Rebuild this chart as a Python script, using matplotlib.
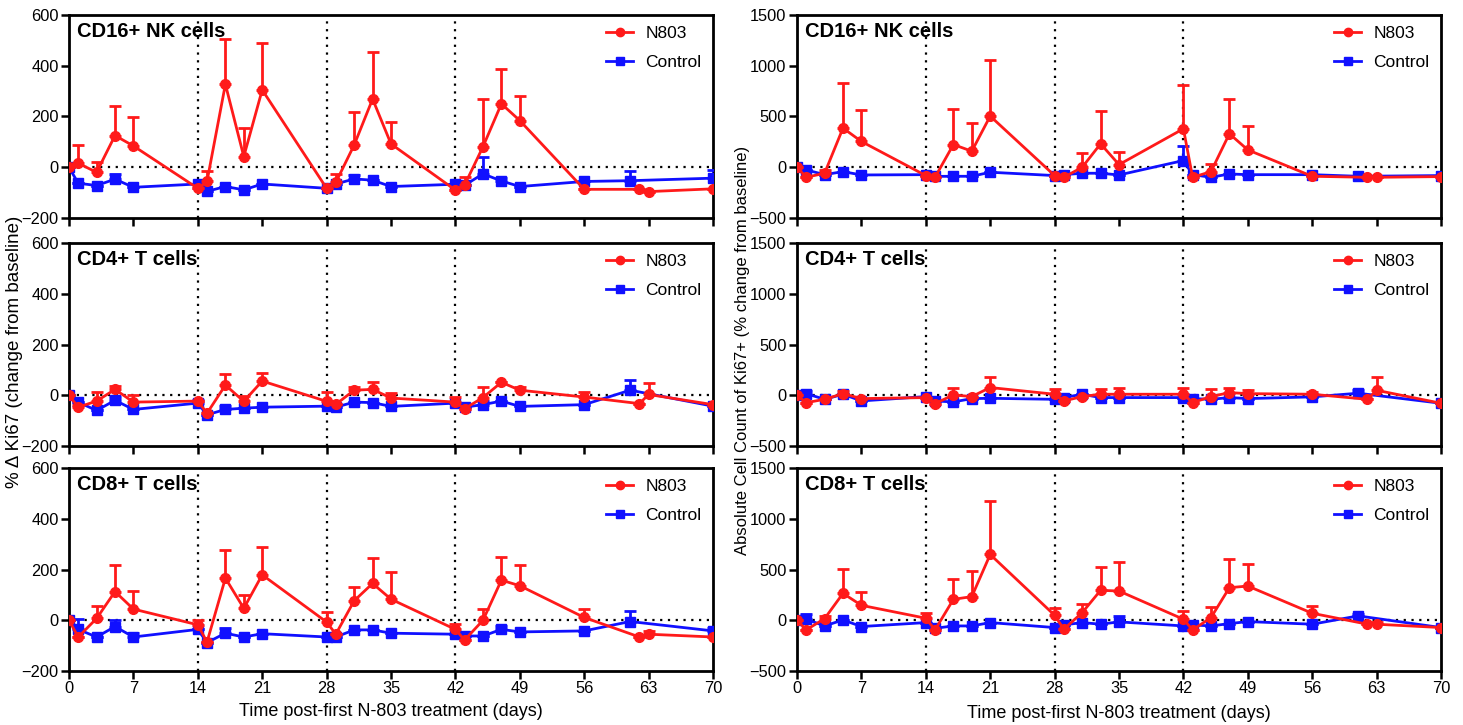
import numpy as np
import matplotlib.pyplot as plt
from matplotlib.lines import Line2D

plt.rcParams["font.family"] = ["Liberation Sans", "DejaVu Sans"]

days_n803 = [0, 1, 3, 5, 7, 14, 15, 17, 19, 21, 28, 29, 31, 33, 35, 42, 43, 45, 47, 49, 56, 62, 63, 70]
days_ctrl = [0, 1, 3, 5, 7, 14, 15, 17, 19, 21, 28, 29, 31, 33, 35, 42, 43, 45, 47, 49, 56, 61, 70]

# % delta Ki67 (left column)
nk_ki67_n803 = [0, 16, -20, 125, 84, -83, -56, 327, 42, 305, -83, -60, 88, 269, 92, -90, -70, 81, 250, 184, -87, -87, -96, -85]
nk_ki67_n803_err = [0, 72, 40, 118, 113, 0, 42, 178, 114, 186, 0, 34, 130, 184, 85, 0, 33, 187, 136, 98, 0, 0, 0, 0]
nk_ki67_ctrl = [0, -63, -72, -47, -79, -66, -95, -76, -89, -66, -83, -66, -46, -51, -76, -67, -71, -26, -54, -76, -56, -53, -43]
nk_ki67_ctrl_err = [0, 0, 0, 21, 0, 0, 0, 0, 0, 0, 0, 0, 16, 0, 0, 0, 0, 68, 13, 0, 0, 40, 33]

cd4_ki67_n803 = [0, -47, -23, 23, -27, -23, -71, 40, -24, 56, -24, -36, 20, 23, -11, -27, -53, -9, 51, 20, -7, -33, 3, -37]
cd4_ki67_n803_err = [0, 10, 35, 12, 27, 0, 0, 45, 20, 30, 37, 0, 13, 28, 18, 20, 0, 42, 0, 13, 20, 0, 44, 0]
cd4_ki67_ctrl = [0, -27, -60, -20, -56, -31, -77, -56, -51, -47, -43, -47, -27, -29, -44, -31, -47, -37, -23, -44, -37, 20, -43]
cd4_ki67_ctrl_err = [0, 0, 0, 13, 0, 12, 0, 15, 0, 0, 0, 0, 0, 0, 0, 0, 0, 15, 0, 0, 0, 40, 0]

cd8_ki67_n803 = [0, -66, 7, 113, 44, -18, -86, 166, 47, 179, -7, -55, 77, 145, 83, -36, -78, 0, 158, 136, 11, -66, -55, -66]
cd8_ki67_n803_err = [0, 0, 50, 106, 72, 19, 0, 111, 53, 109, 41, 0, 55, 99, 106, 23, 0, 46, 90, 82, 35, 0, 13, 0]
cd8_ki67_ctrl = [0, -36, -66, -25, -66, -36, -88, -51, -66, -53, -66, -66, -38, -38, -51, -55, -62, -62, -36, -46, -42, -5, -42]
cd8_ki67_ctrl_err = [0, 40, 0, 25, 15, 0, 0, 20, 0, 0, 0, 0, 0, 0, 0, 0, 0, 0, 13, 0, 0, 42, 13]

# absolute count of Ki67+ cells (right column)
nk_abs_n803 = [0, -99, -59, 386, 254, -82, -99, 224, 158, 504, -82, -99, 0, 231, 26, 379, -99, -43, 330, 171, -89, -99, -99, -92]
nk_abs_n803_err = [0, 0, 33, 445, 306, 0, 0, 353, 280, 551, 0, 0, 138, 320, 122, 435, 0, 76, 339, 235, 0, 0, 0, 0]
nk_abs_ctrl = [0, -26, -73, -43, -76, -73, -90, -89, -89, -49, -82, -73, -59, -59, -76, 66, -73, -99, -66, -73, -73, -89, -82]
nk_abs_ctrl_err = [0, 0, 0, 0, 0, 0, 0, 0, 0, 0, 0, 0, 0, 0, 0, 148, 0, 0, 0, 0, 0, 0, 0]

cd4_abs_n803 = [0, -73, -40, 16, -33, -23, -82, 3, -13, 76, 10, -56, -13, 10, 10, 10, -73, -13, 26, 16, 10, -40, 49, -79]
cd4_abs_n803_err = [0, 0, 0, 27, 0, 0, 0, 73, 0, 99, 49, 0, 0, 49, 59, 66, 0, 79, 50, 33, 26, 0, 126, 0]
cd4_abs_ctrl = [0, 16, -40, 10, -56, -13, -56, -66, -33, -30, -40, -23, 10, -23, -23, -23, -33, -40, -23, -33, -16, 20, -79]
cd4_abs_ctrl_err = [0, 27, 0, 0, 0, 0, 0, 0, 0, 0, 0, 0, 0, 0, 0, 0, 0, 0, 0, 0, 0, 29, 0]

cd8_abs_n803 = [0, -95, 16, 265, 147, 20, -95, 206, 233, 648, 49, -88, 75, 295, 288, 10, -95, 26, 321, 337, 69, -39, -39, -72]
cd8_abs_n803_err = [0, 0, 27, 236, 135, 49, 0, 197, 252, 524, 75, 0, 89, 232, 285, 82, 0, 108, 278, 220, 72, 0, 20, 0]
cd8_abs_ctrl = [0, 10, -56, 3, -62, -23, -79, -56, -56, -23, -72, -46, -23, -39, -16, -56, -46, -56, -33, -13, -39, 43, -72]
cd8_abs_ctrl_err = [0, 55, 0, 0, 0, 0, 0, 0, 0, 0, 0, 0, 0, 0, 59, 0, 0, 0, 0, 0, 0, 22, 0]

titles = ["CD16+ NK cells", "CD4+ T cells", "CD8+ T cells"]
left_data = [
    (nk_ki67_n803, nk_ki67_n803_err, nk_ki67_ctrl, nk_ki67_ctrl_err),
    (cd4_ki67_n803, cd4_ki67_n803_err, cd4_ki67_ctrl, cd4_ki67_ctrl_err),
    (cd8_ki67_n803, cd8_ki67_n803_err, cd8_ki67_ctrl, cd8_ki67_ctrl_err),
]
right_data = [
    (nk_abs_n803, nk_abs_n803_err, nk_abs_ctrl, nk_abs_ctrl_err),
    (cd4_abs_n803, cd4_abs_n803_err, cd4_abs_ctrl, cd4_abs_ctrl_err),
    (cd8_abs_n803, cd8_abs_n803_err, cd8_abs_ctrl, cd8_abs_ctrl_err),
]

RED = "#ff1a1a"
BLUE = "#1010ff"

W, H = 1463, 725
fig = plt.figure(figsize=(W / 100, H / 100), dpi=100)

col_left = [69, 797]
col_w = 644
row_top = [15, 243, 468]
row_h = 203


def draw_panel(ax, data, title, ylim, yticks, show_xlabels):
    n803, n803_err, ctrl, ctrl_err = data
    for d in (14, 28, 42):
        ax.axvline(d, color="black", linestyle=(0, (1, 2.5)), lw=1.6, zorder=1)
    ax.axhline(0, color="black", linestyle=(0, (1, 2.5)), lw=1.6, zorder=1)
    ax.errorbar(days_ctrl, ctrl, yerr=[np.zeros(len(ctrl)), ctrl_err],
                color=BLUE, marker="s", ms=6.5, lw=2, capsize=4, capthick=2,
                elinewidth=2, zorder=3)
    ax.errorbar(days_n803, n803, yerr=[np.zeros(len(n803)), n803_err],
                color=RED, marker="o", ms=7, lw=2, capsize=4, capthick=2,
                elinewidth=2, zorder=4)
    ax.set_xlim(0, 70)
    ax.set_ylim(*ylim)
    ax.set_xticks(range(0, 71, 7))
    ax.set_yticks(yticks)
    ax.tick_params(direction="out", length=6, width=1.8, labelsize=11.8, pad=1.5)
    if not show_xlabels:
        ax.set_xticklabels([])
    for s in ax.spines.values():
        s.set_linewidth(2)
    ax.text(0.012, 0.965, title, transform=ax.transAxes, ha="left", va="top",
            fontsize=14.5, fontweight="bold")
    handles = [
        Line2D([], [], color=RED, marker="o", ms=6, lw=2, label="N803"),
        Line2D([], [], color=BLUE, marker="s", ms=5.5, lw=2, label="Control"),
    ]
    ax.legend(handles=handles, loc="upper right", frameon=False, fontsize=12.5,
              handlelength=1.6, handletextpad=0.7, borderaxespad=0.25,
              labelspacing=0.75)


for r in range(3):
    for c, (data_set, ylim, yticks) in enumerate([
        (left_data, (-200, 600), [-200, 0, 200, 400, 600]),
        (right_data, (-500, 1500), [-500, 0, 500, 1000, 1500]),
    ]):
        ax = fig.add_axes([col_left[c] / W, 1 - (row_top[r] + row_h) / H,
                           col_w / W, row_h / H])
        draw_panel(ax, data_set[r], titles[r], ylim, yticks, r == 2)

fig.text(15 / W, 1 - 352 / H, "% \u0394 Ki67 (change from baseline)", rotation=90,
         ha="center", va="center", fontsize=13.5)
fig.text(743 / W, 1 - 350 / H, "Absolute Cell Count of Ki67+ (% change from baseline)",
         rotation=90, ha="center", va="center", fontsize=12)
fig.text((69 + 322) / W, 1 - 712 / H, "Time post-first N-803 treatment (days)",
         ha="center", va="center", fontsize=13)
fig.text((797 + 322) / W, 1 - 714 / H, "Time post-first N-803 treatment (days)",
         ha="center", va="center", fontsize=13)

fig.savefig("out.png", dpi=100)
